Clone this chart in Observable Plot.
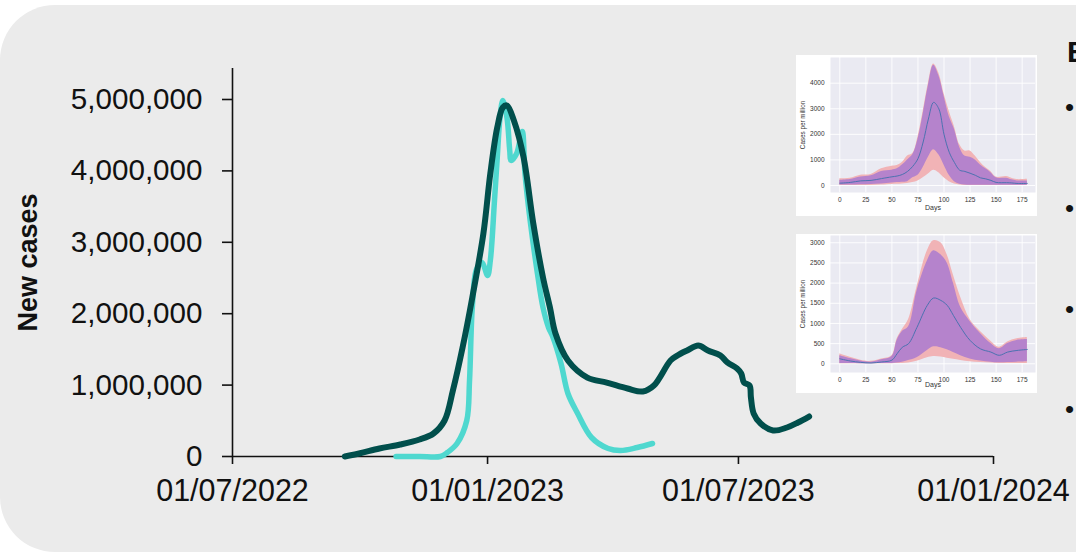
<!DOCTYPE html>
<html><head><meta charset="utf-8">
<script src="https://cdn.jsdelivr.net/npm/d3@7"></script>
<script src="https://cdn.jsdelivr.net/npm/@observablehq/plot@0.6"></script>
<style>
html,body{margin:0;padding:0;background:#fff;width:1076px;height:555px;overflow:hidden;font-family:"Liberation Sans",Arial,sans-serif;}
#panel{position:absolute;left:0;top:5px;width:1200px;height:547px;background:#ebebeb;border-radius:55px;}
#main{position:absolute;left:0;top:0;}
.inset{position:absolute;background:#fff;}
.side{position:absolute;color:#111;white-space:nowrap;}
</style></head>
<body>
<div id="panel"></div>
<div id="main"></div>
<div id="inset1" class="inset" style="left:796px;top:55px;width:241px;height:161px;"></div>
<div id="inset2" class="inset" style="left:796px;top:234px;width:241px;height:159px;"></div>
<div class="side" style="left:1067px;top:35px;font-size:30px;font-weight:bold;">E</div>
<div class="side" style="left:1065px;top:92px;font-size:26px;">•</div>
<div class="side" style="left:1065px;top:193px;font-size:26px;">•</div>
<div class="side" style="left:1065px;top:294px;font-size:26px;">•</div>
<div class="side" style="left:1065px;top:394px;font-size:26px;">•</div>
<script>
// ---- Main chart data ----
const darkDates = ["2022-09-20","2022-10-01","2022-10-15","2022-10-30","2022-11-13","2022-11-23","2022-12-01","2022-12-07","2022-12-14","2022-12-21","2022-12-29","2023-01-03","2023-01-08","2023-01-12","2023-01-15","2023-01-20","2023-01-27","2023-02-03","2023-02-10","2023-02-15","2023-02-19","2023-02-28","2023-03-14","2023-03-28","2023-04-12","2023-04-23","2023-05-01","2023-05-13","2023-05-18","2023-05-25","2023-06-02","2023-06-09","2023-06-18","2023-06-23","2023-06-30","2023-07-03","2023-07-05","2023-07-09","2023-07-10","2023-07-12","2023-07-17","2023-07-26","2023-08-05","2023-08-13","2023-08-21"];
const darkValues = [0,46000,112000,168000,238000,322000,504000,924000,1527000,2227000,3123000,3964000,4608000,4888000,4916000,4706000,4188000,3263000,2507000,2087000,1723000,1345000,1106000,1036000,952000,910000,994000,1345000,1415000,1485000,1555000,1485000,1415000,1317000,1232000,1162000,1036000,994000,826000,602000,462000,364000,406000,476000,560000];
const turqDates = ["2022-10-27","2022-11-13","2022-11-28","2022-12-03","2022-12-10","2022-12-17","2022-12-19","2022-12-21","2022-12-24","2022-12-28","2023-01-01","2023-01-03","2023-01-06","2023-01-08","2023-01-10","2023-01-12","2023-01-15","2023-01-17","2023-01-18","2023-01-22","2023-01-26","2023-01-28","2023-02-01","2023-02-06","2023-02-10","2023-02-14","2023-02-17","2023-02-23","2023-02-28","2023-03-07","2023-03-17","2023-03-29","2023-04-07","2023-04-19","2023-04-30"];
const turqValues = [0,0,0,56000,182000,504000,1064000,2087000,2619000,2717000,2535000,2745000,3585000,4188000,4748000,4986000,4748000,4286000,4146000,4244000,4552000,3964000,3263000,2563000,2087000,1807000,1680000,1303000,882000,602000,266000,112000,84000,126000,182000];
const xTickDates = ["2022-07-01","2023-01-01","2023-07-01","2024-01-01"];
const yTickValues = [0,1000000,2000000,3000000,4000000,5000000];
const yLabel = "New cases";

// ---- Inset data ----
const inset1Days = [0,10,20,30,40,50,55,60,65,70,75,80,85,90,95,100,105,110,115,120,125,130,135,140,145,150,160,165,170,180];
const inset1PinkLo = [0,0,0,0,20,40,50,60,80,120,180,300,450,600,500,300,150,60,20,0,0,0,0,0,0,0,0,0,0,0];
const inset1PurpleLo = [20,20,30,40,60,100,120,130,150,300,400,700,1100,1400,1200,800,400,150,50,20,10,10,10,10,10,10,10,10,10,10];
const inset1Median = [90,120,180,200,270,340,370,430,550,750,1050,1700,2600,3250,3000,2000,1300,900,600,550,480,400,300,260,200,120,110,100,80,80];
const inset1PurpleHi = [200,230,330,380,550,600,650,800,1000,1200,1800,2800,3900,4700,4300,3500,2700,2200,1500,1150,1100,1000,800,650,500,300,280,220,180,180];
const inset1PinkHi = [260,280,400,430,650,750,780,900,1150,1250,1900,2900,4000,4750,4400,3600,2900,2300,1600,1350,1350,1150,900,700,550,330,350,280,230,240];

const inset2Days = [0,10,20,30,40,50,55,60,66,74,84,90,97,103,109,116,125,135,145,153,161,170,180];
const inset2PinkLo = [0,0,0,0,0,0,5,10,20,60,150,180,170,140,110,80,50,30,20,10,10,10,10];
const inset2PurpleLo = [10,5,0,0,5,10,20,40,80,150,330,420,400,350,280,200,120,70,40,25,30,40,50];
const inset2Median = [124,70,35,20,45,90,250,410,500,900,1450,1630,1570,1450,1200,900,580,370,290,210,290,330,355];
const inset2PurpleHi = [200,130,70,40,100,180,580,800,920,1800,2550,2800,2700,2500,2000,1400,1050,750,500,370,500,580,600];
const inset2PinkHi = [240,160,90,60,120,200,620,850,1100,1900,2800,3050,3000,2700,2200,1650,1100,800,560,410,540,620,650];
const insetXTicks = [0,25,50,75,100,125,150,175];
const inset1YTicks = [0,1000,2000,3000,4000];
const inset2YTicks = [0,500,1000,1500,2000,2500,3000];

const parse = s => new Date(s + "T00:00:00Z");
const dark = darkDates.map((d,i) => ({date: parse(d), value: darkValues[i]}));
const turq = turqDates.map((d,i) => ({date: parse(d), value: turqValues[i]}));

const font = "Liberation Sans, Arial, sans-serif";
const mainPlot = Plot.plot({
  width: 1076, height: 555,
  marginLeft: 232, marginRight: 83, marginTop: 68, marginBottom: 99,
  style: {background: "transparent", fontFamily: font, color: "#111", overflow: "visible"},
  x: {type: "utc", domain: [parse("2022-07-01"), parse("2024-01-01")]},
  y: {domain: [0, 5434000]},
  marks: [
    Plot.axisX({ticks: xTickDates.map(parse), tickFormat: d3.utcFormat("%d/%m/%Y"), tickSize: 8, tickPadding: 15, fontSize: 30.5, label: null, stroke: "#111", strokeWidth: 1.6, fill: "#111"}),
    Plot.axisY({ticks: yTickValues, tickFormat: d3.format(","), tickSize: 10, tickPadding: 20, fontSize: 29.6, label: null, stroke: "#111", strokeWidth: 1.6, fill: "#111"}),
    Plot.ruleY([0], {stroke: "#111", strokeWidth: 1.6}),
    Plot.ruleX([parse("2022-07-01")], {stroke: "#111", strokeWidth: 1.6}),
    Plot.text([yLabel], {frameAnchor: "left", textAnchor: "middle", dx: -204, rotate: -90, fontSize: 27, fontWeight: "bold", fill: "#111"}),
    Plot.line(turq, {x: "date", y: "value", stroke: "#4fd8cf", strokeWidth: 5.5, curve: "catmull-rom", strokeLinecap: "round", strokeLinejoin: "round"}),
    Plot.line(dark, {x: "date", y: "value", stroke: "#014f4c", strokeWidth: 6, curve: "catmull-rom", strokeLinecap: "round", strokeLinejoin: "round"})
  ]
});
document.getElementById("main").appendChild(mainPlot);

function inset(el, w, h, mt, mb, days, pLo, uLo, med, uHi, pHi, yDomain, yTicks, daysDy) {
  const rows = days.map((d,i) => ({day: d, pLo: pLo[i], uLo: uLo[i], med: med[i], uHi: uHi[i], pHi: pHi[i]}));
  const p = Plot.plot({
    width: w, height: h,
    marginLeft: 34, marginRight: 2, marginTop: mt, marginBottom: mb,
    style: {background: "#fff", fontFamily: font, color: "#333"},
    x: {domain: [-8.93, 187.8]},
    y: {domain: yDomain},
    marks: [
      Plot.frame({fill: "#eaeaf2", stroke: null}),
      Plot.gridX(insetXTicks, {stroke: "#fff", strokeOpacity: 1, strokeWidth: 0.9}),
      Plot.gridY(yTicks, {stroke: "#fff", strokeOpacity: 1, strokeWidth: 0.9}),
      Plot.areaY(rows, {x: "day", y1: "pLo", y2: "pHi", fill: "#f1b3b6", curve: "catmull-rom"}),
      Plot.areaY(rows, {x: "day", y1: "uLo", y2: "uHi", fill: "#b583cc", curve: "catmull-rom"}),
      Plot.line(rows, {x: "day", y: "med", stroke: "#4c72b0", strokeWidth: 1, curve: "catmull-rom"}),
      Plot.axisX(insetXTicks, {tickSize: 0, tickPadding: 5, fontSize: 6.5, label: null, fill: "#333", tickFormat: d3.format("d")}),
      Plot.axisY(yTicks, {tickSize: 0, tickPadding: 6, fontSize: 6.5, label: null, fill: "#333", tickFormat: d3.format("d")}),
      Plot.text(["Days"], {frameAnchor: "bottom", dy: daysDy, fontSize: 7, fill: "#333"}),
      Plot.text(["Cases per million"], {frameAnchor: "left", textAnchor: "middle", dx: -28, rotate: -90, fontSize: 6.3, fill: "#333"})
    ]
  });
  document.getElementById(el).appendChild(p);
}
inset("inset1", 241, 161, 2, 24, inset1Days, inset1PinkLo, inset1PurpleLo, inset1Median, inset1PurpleHi, inset1PinkHi, [-274, 5005], inset1YTicks, 17);
inset("inset2", 241, 159, 1, 21, inset2Days, inset2PinkLo, inset2PurpleLo, inset2Median, inset2PurpleHi, inset2PinkHi, [-216, 3180], inset2YTicks, 14);
</script>
</body></html>
